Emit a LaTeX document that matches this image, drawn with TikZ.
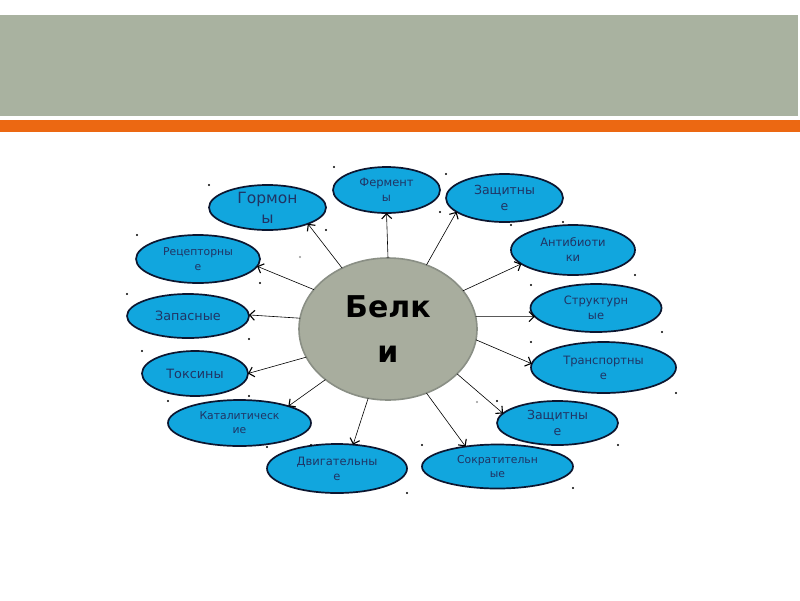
\documentclass[tikz,border=0pt]{standalone}
\usepackage{fontspec}
\setmainfont{DejaVu Sans}
\usetikzlibrary{shapes.geometric,arrows.meta}
\definecolor{bandgray}{RGB}{169,178,160}
\definecolor{bandorange}{RGB}{236,104,18}
\definecolor{bubfill}{RGB}{17,166,222}
\definecolor{bubline}{RGB}{12,22,48}
\definecolor{bubtext}{RGB}{32,52,100}
\definecolor{corefill}{RGB}{168,173,158}
\definecolor{coreline}{RGB}{138,143,133}
\definecolor{speckgray}{RGB}{150,150,150}
\tikzset{
  bub/.style={ellipse, draw=bubline, fill=bubfill, line width=1.7pt, inner sep=0pt, outer sep=0pt},
  btxt/.style={text=bubtext, align=center, inner sep=0pt},
  link/.style={draw=black, line width=0.6pt, -{Straight Barb[length=5pt,width=10pt,line width=1.1pt]}},
}
\newcommand{\mybubble}[8]{%
  \node[bub, minimum width=#4pt, minimum height=#5pt] (#1) at (#2,#3) {};
  \node[btxt, font=\fontsize{#6}{#7}\selectfont] (#1-t) at (#1) {#8};
}
\begin{document}
\begin{tikzpicture}[x=1pt,y=-1pt]
  \useasboundingbox (0,0) rectangle (800,600);
  \fill[white] (0,0) rectangle (800,600);
  % header bands
  \fill[bandgray] (0,15) rectangle (798,116);
  \fill[bandorange] (0,120) rectangle (800,132);

  % central ellipse
  \node[ellipse, draw=coreline, fill=corefill, line width=1.6pt, minimum width=178pt, minimum height=142pt, inner sep=0pt, outer sep=0pt] (c) at (388,329) {};
  \node[align=center, inner sep=0pt, font=\fontsize{30}{45}\selectfont\bfseries] (c-t) at (c) {Белк\\и};

  % bubbles: name, x, y, width, height, font size, skip, text
  \mybubble{gorm}{267.5}{207.5}{117}{45}{15.5}{20}{Гормон\\ы}
  \mybubble{ferm}{386.5}{190}{107}{46}{11.5}{15}{Фермент\\ы}
  \mybubble{zash}{504.5}{198}{117}{48}{12.5}{16}{Защитны\\е}
  \mybubble{anti}{573}{250}{124}{50}{11.5}{15}{Антибиоти\\ки}
  \mybubble{stru}{596}{308}{131}{48}{11.5}{15}{Структурн\\ые}
  \mybubble{tran}{603.5}{367.5}{145}{51}{11.5}{15}{Транспортны\\е}
  \mybubble{zasb}{557.5}{423}{121}{44}{12.5}{16}{Защитны\\е}
  \mybubble{sokr}{497.5}{466.5}{151}{44}{10.8}{14}{Сократительн\\ые}
  \mybubble{dvig}{337}{468.5}{140}{49}{11.5}{15}{Двигательны\\е}
  \mybubble{kata}{239.5}{423}{143}{46}{10.8}{14}{Каталитическ\\ие}
  \mybubble{toks}{195}{373.5}{106}{45}{12.8}{16}{Токсины}
  \mybubble{zapa}{188}{316}{122}{44}{12.8}{16}{Запасные}
  \mybubble{rece}{198}{259}{124}{48}{10.8}{15}{Рецепторны\\е}

  % connectors
  \draw[link] (c.127) -- (gorm.-22);
  \draw[link] (c.90) -- (ferm.-90);
  \draw[link] (c.59) -- (zash.196);
  \draw[link] (c.27) -- (anti.195);
  \draw[link] (c.8) -- (stru.188);
  \draw[link] (c.-7) -- (tran.177);
  \draw[link] (c.-33) -- (zasb.170);
  \draw[link] (c.-59) -- (sokr.148);
  \draw[link] (c.-106) -- (dvig.56);
  \draw[link] (c.219) -- (kata.19);
  \draw[link] (c.199) -- (toks.0);
  \draw[link] (c.173) -- (zapa.1);
  \draw[link] (c.152) -- (rece.-7);

  % specks
  \foreach \p in {(209,185),(334,167),(137,235),(326,230),(260,283),(127,294),
                  (446,174),(440,212),(511,225),(563,222),(635,275),(531,285),
                  (662,332),(531,342),(676,393),(249,339),(142,351),(249,396),
                  (168,401),(267,447),(311,445),(497,401),(618,445),(422,445),
                  (407,493),(573,488)}
    \fill[black] \p circle (1.2pt);
  \fill[speckgray] (300,257) circle (1.2pt);
  \fill[speckgray] (477,402) circle (1.2pt);
\end{tikzpicture}
\end{document}
